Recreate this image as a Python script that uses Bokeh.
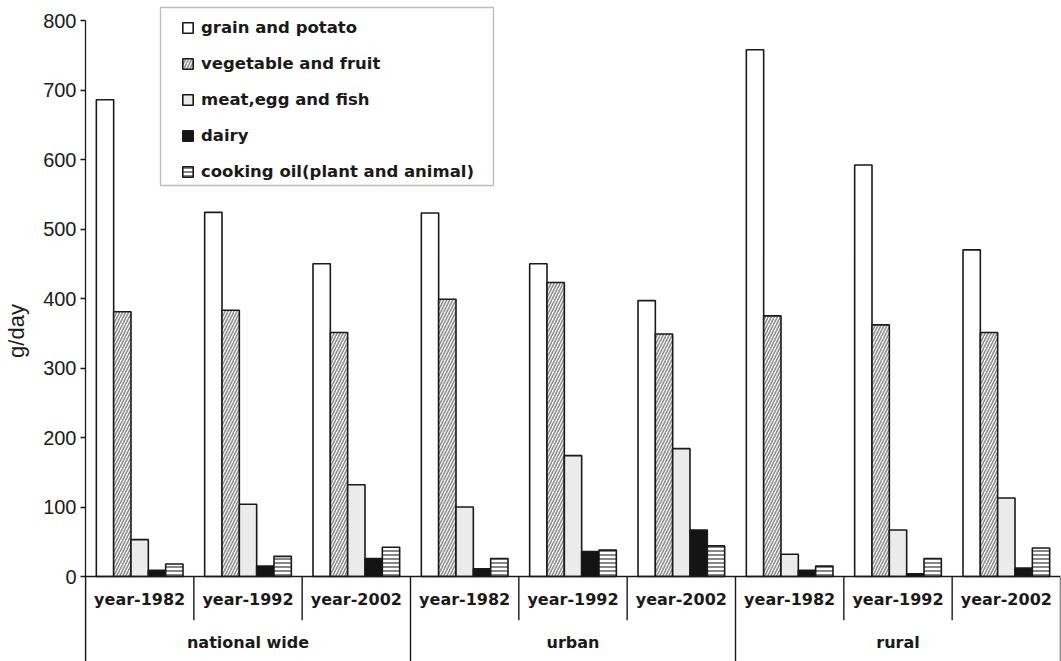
from bokeh.plotting import figure
from bokeh.models import (FactorRange, Range1d, ColumnDataSource, Span, FixedTicker,
                          Legend, LegendItem, BoxAnnotation)
from bokeh.transform import dodge
from bokeh.core.properties import value
from bokeh.embed import file_html
from bokeh.resources import INLINE

regions = ["national wide", "urban", "rural"]
years = ["year-1982", "year-1992", "year-2002"]
foods = ["grain and potato", "vegetable and fruit", "meat,egg and fish",
         "dairy", "cooking oil(plant and animal)"]

grain = [686, 524, 450, 523, 450, 397, 758, 592, 470]
vegetable = [381, 383, 351, 399, 423, 349, 375, 362, 351]
meat = [53, 104, 132, 100, 174, 184, 32, 67, 113]
dairy = [9, 15, 26, 11, 36, 67, 9, 4, 12]
oil = [18, 29, 42, 26, 38, 44, 15, 26, 41]

series = [grain, vegetable, meat, dairy, oil]
factors = [(r, y) for r in regions for y in years]

INK = "#1a1a1a"

p = figure(x_range=FactorRange(*factors, factor_padding=0, group_padding=0,
                               subgroup_padding=0, range_padding=0),
           y_range=Range1d(-122.3, 828.8),
           width=1061, height=661, output_backend="svg", toolbar_location=None,
           x_axis_location=None,
           min_border_left=85, min_border_right=1, min_border_top=0,
           min_border_bottom=0)
p.outline_line_color = None
p.xgrid.visible = False
p.ygrid.visible = False
p.background_fill_color = "white"

ax = p.yaxis[0]
ax.bounds = (-122.3, 800)
ax.ticker = FixedTicker(ticks=list(range(0, 801, 100)))
ax.minor_tick_line_color = None
ax.major_tick_in = 0
ax.major_tick_out = 5
ax.axis_line_color = INK
ax.axis_line_width = 1.3
ax.major_tick_line_color = INK
ax.major_tick_line_width = 1.3
ax.major_label_standoff = 4
ax.major_label_text_font = "Liberation Sans"
ax.major_label_text_font_size = "20px"
ax.major_label_text_color = INK
ax.axis_label = "g/day"
ax.axis_label_text_font = "Liberation Sans"
ax.axis_label_text_font_size = "22px"
ax.axis_label_text_font_style = "normal"
ax.axis_label_text_color = INK
ax.axis_label_standoff = 11

styles = [
    dict(fill_color="white"),
    dict(fill_color="white", hatch_pattern="/", hatch_color="#8c8c8c",
         hatch_scale=6, hatch_weight=1.6),
    dict(fill_color="#eaebea"),
    dict(fill_color="#141414"),
    dict(fill_color="white", hatch_pattern="-", hatch_color="#222222",
         hatch_scale=4, hatch_weight=1.1),
]

bw = 0.16
items = []
for k, (name, vals) in enumerate(zip(foods, series)):
    src = ColumnDataSource(dict(x=factors, top=vals))
    r = p.vbar(x=dodge("x", (k - 2) * bw, range=p.x_range), top="top", bottom=0,
               width=bw, source=src, line_color=INK, line_width=1.6, **styles[k])
    items.append(LegendItem(label=name, renderers=[r]))

# x axis line
p.add_layout(Span(location=0, dimension="width", line_color=INK, line_width=1.5))

# separators below the axis
sep_y = [-63 if j else -122.3 for r in regions for j, y in enumerate(years)]
sep_src = ColumnDataSource(dict(x=factors, y0=[0] * len(factors), y1=sep_y))
p.segment(x0=dodge("x", -0.5, range=p.x_range), x1=dodge("x", -0.5, range=p.x_range),
          y0="y0", y1="y1", source=sep_src, line_color=INK, line_width=1.4)
end_src = ColumnDataSource(dict(x=[factors[-1]], y0=[0], y1=[-122.3]))
p.segment(x0=dodge("x", 0.5, range=p.x_range), x1=dodge("x", 0.5, range=p.x_range),
          y0="y0", y1="y1", source=end_src, line_color=INK, line_width=1.4)

# category labels
lab_src = ColumnDataSource(dict(x=factors, y=[-33] * len(factors),
                                t=[y for r in regions for y in years]))
p.text(x="x", y="y", text="t", source=lab_src, text_font=value("DejaVu Sans"),
       text_font_style="bold", text_font_size=value("16px"), text_color=INK,
       text_align="center", text_baseline="middle")
grp_src = ColumnDataSource(dict(x=[(r, years[1]) for r in regions],
                                y=[-95] * len(regions), t=regions))
p.text(x="x", y="y", text="t", source=grp_src, text_font=value("DejaVu Sans"),
       text_font_style="bold", text_font_size=value("16px"), text_color=INK,
       text_align="center", text_baseline="middle")

# legend frame
p.add_layout(BoxAnnotation(left=160, right=493, top=7, bottom=185,
                           left_units="canvas", right_units="canvas",
                           top_units="canvas", bottom_units="canvas",
                           fill_color="white", fill_alpha=1,
                           line_color="#222222", line_width=1.3, level="overlay"))

legend = Legend(items=items, location=(96, 480), orientation="vertical",
                border_line_alpha=0, background_fill_alpha=0,
                padding=0, spacing=16, margin=0, label_standoff=7,
                glyph_width=13, glyph_height=13, label_height=20,
                label_text_font="DejaVu Sans", label_text_font_style="bold",
                label_text_font_size="16.5px", label_text_color=INK)
p.add_layout(legend)

open("out.html", "w").write(file_html(p, INLINE))
